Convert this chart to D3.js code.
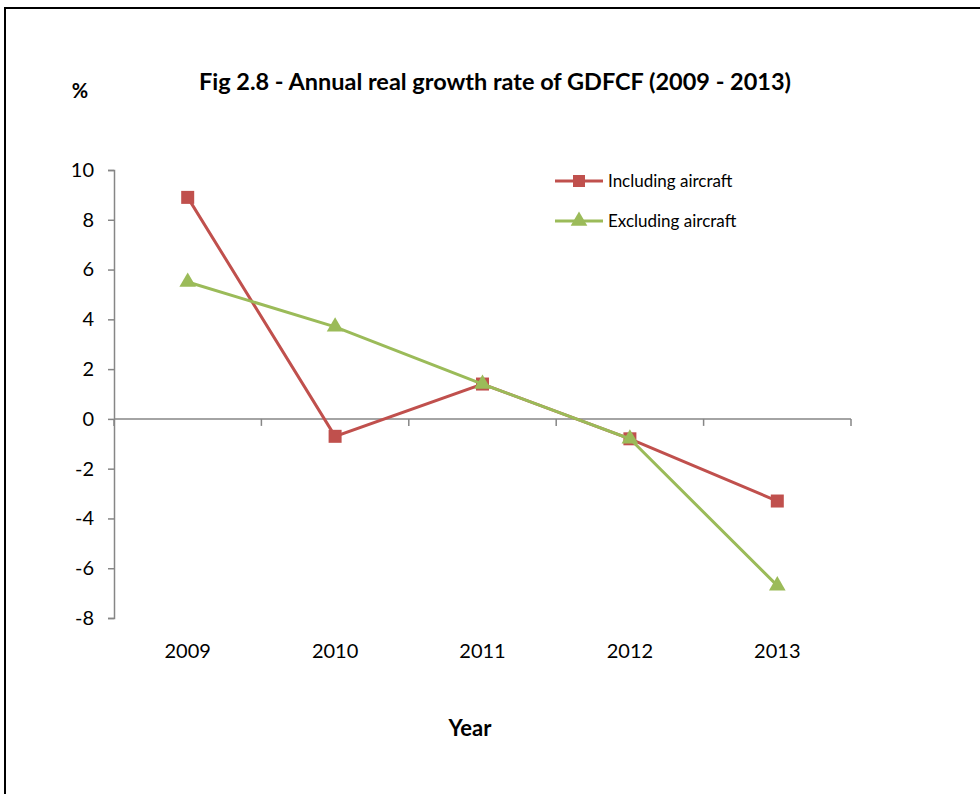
<!DOCTYPE html>
<html>
<head>
<meta charset="utf-8">
<script src="https://cdn.jsdelivr.net/npm/d3@7"></script>
<style>
  html, body { margin: 0; padding: 0; background: #fff; }
  svg { display: block; }
  text { font-family: Lato, "Open Sans", sans-serif; fill: #000; }
</style>
</head>
<body>
<svg id="chart" width="980" height="794"></svg>
<script>
// Annual real growth rate of GDFCF, 2009-2013
const years = ["2009", "2010", "2011", "2012", "2013"];
const includingAircraft = [8.9, -0.7, 1.4, -0.8, -3.3];
const excludingAircraft = [5.5, 3.7, 1.4, -0.8, -6.7];
const yTicks = [10, 8, 6, 4, 2, 0, -2, -4, -6, -8];
const seriesNames = ["Including aircraft", "Excluding aircraft"];
const seriesColors = ["#C0504D", "#9BBB59"];

const svg = d3.select("#chart");

// frame around the figure
svg.append("line").attr("x1", 4).attr("x2", 980).attr("y1", 8).attr("y2", 8)
  .attr("stroke", "#000").attr("stroke-width", 2);
svg.append("line").attr("x1", 5).attr("x2", 5).attr("y1", 7).attr("y2", 794)
  .attr("stroke", "#000").attr("stroke-width", 2);

const plot = { left: 114, right: 851, top: 170, bottom: 618 };

const x = d3.scaleBand().domain(years).range([plot.left, plot.right]);
const y = d3.scaleLinear().domain([-8, 10]).range([plot.bottom, plot.top]);

const axisColor = "#868686";

// y axis (plain hyphen for negatives)
const yAxis = svg.append("g")
  .attr("transform", `translate(${plot.left},0)`)
  .call(d3.axisLeft(y).tickValues(yTicks).tickSize(6).tickPadding(14).tickFormat(d => String(d)));
yAxis.select(".domain").attr("stroke", axisColor).attr("stroke-width", 1.5);
yAxis.selectAll(".tick line").attr("stroke", axisColor).attr("stroke-width", 1.5);
yAxis.selectAll(".tick text").style("font-size", "20px").style("font-family", "Lato, sans-serif").attr("fill", "#000");

// x axis at zero, tick marks at band edges
const xAxisG = svg.append("g").attr("transform", `translate(0,${y(0)})`);
xAxisG.append("line").attr("x1", plot.left).attr("x2", plot.right)
  .attr("y1", 0).attr("y2", 0).attr("stroke", axisColor).attr("stroke-width", 1.5);
const edges = years.map(d => x(d)).concat([x(years[years.length - 1]) + x.bandwidth()]);
xAxisG.selectAll("line.tick").data(edges).enter().append("line")
  .attr("class", "tick")
  .attr("x1", d => d).attr("x2", d => d).attr("y1", 0).attr("y2", 7)
  .attr("stroke", axisColor).attr("stroke-width", 1.5);

// category labels below the plot
svg.append("g").selectAll("text").data(years).enter().append("text")
  .attr("x", d => x(d) + x.bandwidth() / 2)
  .attr("y", 658)
  .attr("text-anchor", "middle")
  .style("font-size", "20px")
  .text(d => d);

// titles
svg.append("text").attr("x", 495).attr("y", 90).attr("text-anchor", "middle")
  .style("font-size", "22px").style("font-weight", "bold")
  .attr("textLength", 592).attr("lengthAdjust", "spacingAndGlyphs")
  .text("Fig 2.8 - Annual real growth rate of GDFCF (2009 - 2013)");
svg.append("text").attr("x", 80).attr("y", 98).attr("text-anchor", "middle")
  .style("font-size", "20px").style("font-weight", "bold").text("%");
svg.append("text").attr("x", 470).attr("y", 736).attr("text-anchor", "middle")
  .style("font-size", "22px").style("font-weight", "bold").text("Year");

// series lines and markers
const cx = d => x(d) + x.bandwidth() / 2;
const line = d3.line().x(d => cx(d.year)).y(d => y(d.value));
const series = [includingAircraft, excludingAircraft].map((vals, i) => ({
  name: seriesNames[i], color: seriesColors[i],
  points: years.map((yr, j) => ({ year: yr, value: vals[j] }))
}));

const triangle = d3.symbol().type(d3.symbolTriangle).size(120);

series.forEach((s, i) => {
  svg.append("path").datum(s.points).attr("d", line)
    .attr("fill", "none").attr("stroke", s.color).attr("stroke-width", 3);
  const g = svg.append("g");
  if (i === 0) {
    g.selectAll("rect").data(s.points).enter().append("rect")
      .attr("x", d => cx(d.year) - 6.5).attr("y", d => y(d.value) - 6.5)
      .attr("width", 13).attr("height", 13).attr("fill", s.color);
  } else {
    g.selectAll("path").data(s.points).enter().append("path")
      .attr("d", triangle)
      .attr("transform", d => `translate(${cx(d.year)},${y(d.value)})`)
      .attr("fill", s.color);
  }
});

// legend
const legend = svg.append("g");
series.forEach((s, i) => {
  const ly = 181 + i * 40;
  legend.append("line").attr("x1", 555).attr("x2", 603).attr("y1", ly).attr("y2", ly)
    .attr("stroke", s.color).attr("stroke-width", 3);
  if (i === 0) {
    legend.append("rect").attr("x", 573).attr("y", ly - 6).attr("width", 12).attr("height", 12)
      .attr("fill", s.color);
  } else {
    legend.append("path").attr("d", triangle).attr("transform", `translate(579,${ly})`)
      .attr("fill", s.color);
  }
  legend.append("text").attr("x", 608).attr("y", ly + 6)
    .style("font-size", "17px").text(s.name);
});
</script>
</body>
</html>
